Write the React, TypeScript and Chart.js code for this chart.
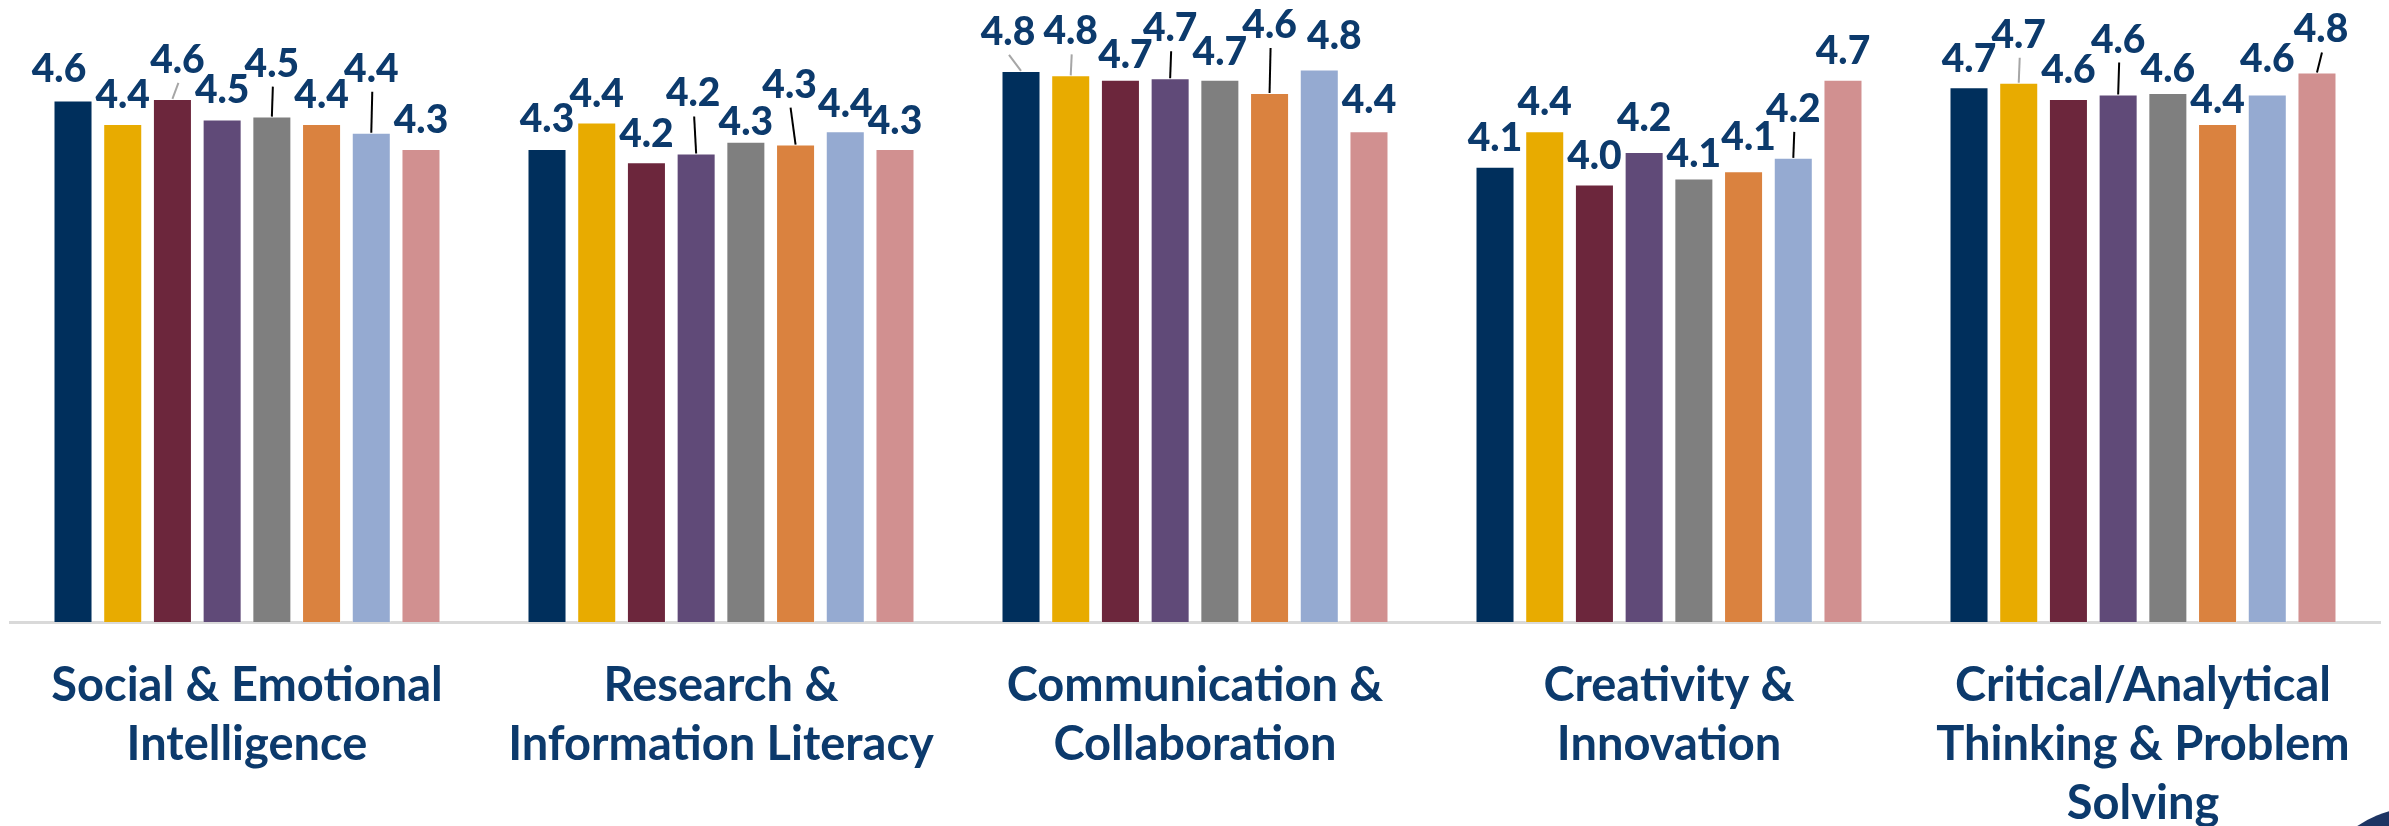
import { useEffect, useRef } from "react";
import { Chart, registerables } from "chart.js";

Chart.register(...registerables);

const categories: string[][] = [
  ["Social & Emotional", "Intelligence"],
  ["Research &", "Information Literacy"],
  ["Communication &", "Collaboration"],
  ["Creativity &", "Innovation"],
  ["Critical/Analytical", "Thinking & Problem", "Solving"],
];

const seriesNames = ["Group 1", "Group 2", "Group 3", "Group 4", "Group 5", "Group 6", "Group 7", "Group 8"];

const series1 = [4.59, 4.26, 4.79, 4.14, 4.68];
const series2 = [4.43, 4.44, 4.76, 4.38, 4.71];
const series3 = [4.6, 4.17, 4.73, 4.02, 4.6];
const series4 = [4.46, 4.23, 4.74, 4.24, 4.63];
const series5 = [4.48, 4.31, 4.73, 4.06, 4.64];
const series6 = [4.43, 4.29, 4.64, 4.11, 4.43];
const series7 = [4.37, 4.38, 4.8, 4.2, 4.63];
const series8 = [4.26, 4.26, 4.38, 4.73, 4.78];

const seriesValues = [series1, series2, series3, series4, series5, series6, series7, series8];

const seriesColors = ["#002f5c", "#e8ab00", "#6c263c", "#604a78", "#7f7f7f", "#da823f", "#95aad1", "#d19090"];

// label nudges [dx, dy, leader] (leader: 0 none, 1 gray, 2 black)
const labelNudges: number[][][] = [
  [[-14, -2, 0], [0, -1, 0], [-13, -10, 1], [0, 0, 0], [0, 1, 0]],
  [[0, 0, 0], [0, 0, 0], [0, -15, 1], [0, 0, 0], [0, -19, 1]],
  [[5, -10, 1], [0, 1, 0], [5, 4, 0], [0, 1, 0], [0, 0, 0]],
  [[0, -1, 0], [-3, -31, 2], [0, -21, 2], [0, -5, 0], [0, -26, 2]],
  [[0, -24, 2], [0, 9, 0], [0, 1, 0], [0, 4, 0], [0, 5, 0]],
  [[0, 0, 0], [-6, -31, 2], [0, -39, 2], [5, -5, 0], [0, 5, 0]],
  [[0, -35, 2], [0, 2, 0], [15, -4, 0], [0, -20, 2], [0, -7, 0]],
  [[0, 0, 0], [0, 1, 0], [0, -2, 0], [0, 0, 0], [4, -14, 2]],
];

const NAVY_TEXT = "#0c3a6c";

const valueLabelPlugin = {
  id: "valueLabels",
  afterDatasetsDraw(chart: any) {
    const ctx = chart.ctx;
    ctx.save();
    chart.data.datasets.forEach((ds: any, i: number) => {
      const meta = chart.getDatasetMeta(i);
      meta.data.forEach((bar: any, j: number) => {
        const v = ds.data[j];
        const [dx, dy, leader] = labelNudges[i][j];
        const lx = bar.x + dx;
        const ly = bar.y - 16 + dy;
        if (leader) {
          ctx.beginPath();
          ctx.strokeStyle = leader === 1 ? "#a6a6a6" : "#000000";
          ctx.lineWidth = 2;
          ctx.moveTo(lx + 1, ly + 10);
          ctx.lineTo(bar.x, bar.y);
          ctx.stroke();
        }
        ctx.fillStyle = NAVY_TEXT;
        ctx.font = "900 39px Lato";
        ctx.textAlign = "center";
        ctx.textBaseline = "alphabetic";
        ctx.fillText(Number(v).toFixed(1), lx, ly);
      });
    });
    ctx.restore();
  },
  afterDraw(chart: any) {
    const ctx = chart.ctx;
    ctx.save();
    ctx.beginPath();
    ctx.fillStyle = "#1d3563";
    ctx.arc(2420, 920, 113, 0, Math.PI * 2);
    ctx.fill();
    ctx.restore();
  },
};

export default function App() {
  const canvasRef = useRef<HTMLCanvasElement | null>(null);

  useEffect(() => {
    document.body.style.margin = "0";
    document.body.style.overflow = "hidden";
    const canvas = canvasRef.current;
    if (!canvas) return;
    const chart = new Chart(canvas, {
      type: "bar",
      data: {
        labels: categories,
        datasets: seriesValues.map((vals, i) => ({
          label: seriesNames[i],
          data: vals,
          backgroundColor: seriesColors[i],
          borderColor: "rgba(255,255,255,0.45)",
          borderWidth: 1,
          categoryPercentage: 0.839,
          barPercentage: 0.785,
        })),
      },
      options: {
        animation: false,
        responsive: false,
        maintainAspectRatio: false,
        layout: { padding: { left: 10, right: 9, top: 40, bottom: 0 } },
        plugins: {
          legend: { display: false },
          tooltip: { enabled: false },
        },
        scales: {
          x: {
            grid: { display: false, drawTicks: false },
            border: { display: true, color: "#d9d9d9", width: 3 },
            ticks: {
              color: NAVY_TEXT,
              font: { family: "Lato", weight: "bold", size: 47, lineHeight: 1.255 },
              padding: 34,
              maxRotation: 0,
              minRotation: 0,
              autoSkip: false,
            },
            afterFit: (scale: any) => {
              scale.height = 204;
            },
          },
          y: {
            display: false,
            min: 1.05,
            max: 5,
          },
        },
      },
      plugins: [valueLabelPlugin],
    });
    return () => chart.destroy();
  }, []);

  return (
    <div style={{ width: 2389, height: 826 }}>
      <canvas ref={canvasRef} width={2389} height={826} style={{ display: "block" }} />
    </div>
  );
}
